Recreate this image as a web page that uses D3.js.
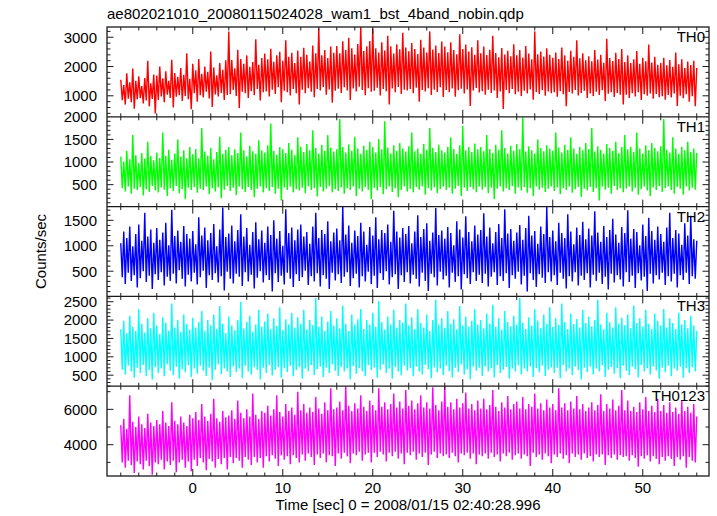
<!DOCTYPE html>
<html><head><meta charset="utf-8">
<script src="https://cdn.jsdelivr.net/npm/d3@7"></script>
<style>
body{margin:0;background:#fff}
text{font-family:"Liberation Sans",Arial,Helvetica,sans-serif;fill:#000}
</style>
</head><body>
<svg id="chart" width="717" height="516"></svg>
<script>
// ---------- data ----------
const title = "ae802021010_20080115024028_wam1_bst_4band_nobin.qdp";
const xLabel = "Time [sec] 0 = 2008/01/15 02:40:28.996";
const yLabel = "Counts/sec";
const startTime = -8.0;   // time of first sample (s)
const binSize = 1 / 6;    // seconds between samples
const xTicks = [0, 10, 20, 30, 40, 50];
const bandNames = ["TH0", "TH1", "TH2", "TH3", "TH0123"];
const bandColors = ["#ff0000", "#00ff00", "#0000ff", "#00ffff", "#ff00ff"];

const th0 = [
1550,850,1370,700,1770,900,1460,780,1930,560,1510,880,1670,920,1330,740,1610,840,2200,640,1430,890,1730,400,
1690,860,2000,980,1600,780,1840,1040,1510,930,2230,600,1780,970,1650,1020,1950,820,1720,990,2450,880,1580,540,
2090,1090,1870,800,2260,1020,1750,940,2000,1140,1820,910,2510,620,1970,1050,1700,980,2120,1100,1890,860,2210,1030,
3200,1050,2220,1200,1940,990,2570,580,2260,1140,2090,1090,2380,930,1990,1160,2150,1020,2930,1230,2060,840,2290,1120,
2440,1150,2250,980,2610,1210,2160,1060,2380,1290,2500,780,2200,1170,2900,1120,2330,1010,2470,1230,2120,1090,2550,700,
2330,1210,2640,1090,2400,1260,2170,1140,2720,950,2450,1230,3300,1180,2380,1300,2560,1040,2290,1220,2680,760,2470,1170,
2700,1240,2450,1100,2860,1290,2560,1180,2980,860,2620,1250,2410,1150,2770,1310,3350,1200,2530,1020,2690,1260,2870,1140,
3300,1170,2620,1280,2480,1010,2830,1230,2550,1160,3050,700,2690,1250,2440,1120,2760,1300,2590,1060,3150,1210,2650,1180,
2520,1230,2800,1090,2600,1280,2430,800,2910,1200,2650,1150,2480,1260,3200,1030,2580,1210,2720,1130,2460,1290,2850,960,
2680,1200,2490,1120,2830,1250,2560,970,2420,1190,3100,1240,2600,1080,2750,1220,2510,650,2660,1180,2400,1270,2900,1110,
2450,1160,2680,1040,2390,1210,2570,1100,3050,1180,2460,930,2320,1150,2630,550,2410,1200,2540,1090,2350,1230,2760,1050,
2380,1140,2560,990,2310,1170,2700,1080,2440,1220,2250,870,3200,1130,2420,1060,2510,1190,2340,1000,2620,1150,2400,1090,
2300,1120,2480,970,2260,1160,2650,1050,2380,640,2200,1130,2540,1080,2330,1200,2900,1010,2280,1100,2450,1170,2210,930,
2350,1080,2180,990,2560,1140,2240,1030,2400,1190,2130,820,2950,1070,2290,1120,2190,960,2470,1100,2260,1040,2600,700,
2150,1040,2380,930,2120,1090,2250,980,2530,1120,2090,860,2300,1050,2180,1000,2750,1080,2140,900,2330,1060,2060,950,
2120,990,2300,870,2040,1030,2220,940,1990,1080,2480,650,2080,1000,2250,920,1950,1050,2170,800,2050,990,2200,640,
1950];

const th1 = [
1120,420,1010,350,1250,460,1060,300,1600,410,1150,380,980,450,1200,260,1080,400,1450,340,1130,470,1040,370,
1210,330,1090,440,1650,390,1140,250,1270,420,1050,360,1190,470,1500,310,1120,400,1260,180,1080,430,1330,380,
1170,450,1290,320,1080,410,1750,380,1230,460,1140,290,1310,420,1060,350,1220,440,1560,200,1180,390,1270,470,
1330,360,1150,430,1280,270,1200,460,1650,400,1260,340,1120,450,1360,380,1240,220,1180,410,1480,460,1260,330,
1210,420,1370,360,1850,450,1250,300,1160,410,1330,150,1280,440,1200,380,1420,460,1270,330,1150,400,1550,370,
1340,430,1220,310,1400,460,1260,380,1700,420,1310,240,1190,450,1380,350,1250,410,1600,470,1320,330,1230,400,
1280,360,1950,440,1330,300,1210,420,1390,380,1250,460,1560,250,1300,410,1180,350,1360,450,1270,390,1450,180,
1330,430,1210,370,1510,450,1280,290,1900,400,1320,460,1190,340,1370,420,1250,220,1420,380,1300,460,1230,350,
1350,410,1650,330,1240,450,1300,390,1180,460,1400,280,1270,420,1750,370,1310,440,1220,310,1380,400,1260,460,
1210,380,1340,440,1550,300,1290,410,1180,470,1370,250,1800,430,1260,360,1330,450,1220,400,1410,330,1280,460,
1330,390,1240,450,1600,310,1290,430,1200,180,1380,410,1270,460,1700,350,1310,420,1190,380,1360,470,1250,300,
1400,440,1280,370,1990,450,1230,320,1350,420,1260,250,1190,460,1500,390,1310,430,1240,340,1370,410,1300,460,
1250,360,1650,440,1320,290,1210,420,1380,380,1270,460,1550,320,1300,400,1180,450,1340,230,1260,410,1420,370,
1290,450,1750,340,1230,420,1350,150,1270,460,1190,390,1400,430,1310,300,1250,470,1450,380,1200,420,1330,330,
1600,410,1280,460,1340,350,1220,430,1650,280,1300,400,1190,460,1370,370,1260,250,1420,440,1310,380,1240,470,
1350,340,1950,420,1270,460,1210,380,1550,300,1300,450,1180,410,1340,280,1260,460,1450,370,1220,430,1300,390,
1200];

const th2 = [
1050,380,1280,250,1150,470,1380,310,990,420,1230,180,1420,360,1100,500,1650,290,1180,410,1320,150,1060,440,
1350,330,1120,480,1260,220,1450,390,1010,310,1710,450,1190,260,1300,520,1080,350,1390,200,1230,430,1140,300,
1290,470,1030,240,1560,380,1200,510,1360,170,1110,420,1250,330,1430,460,990,280,1320,400,1750,120,1170,490,
1240,350,1400,260,1090,450,1310,390,1620,210,1180,480,1350,300,1020,430,1270,160,1460,370,1130,500,1300,280,
1060,420,1380,330,1210,100,1500,460,1140,290,1290,410,1000,240,1720,470,1250,350,1360,190,1110,440,1320,310,
1420,380,1180,510,1270,230,1040,400,1380,300,1650,460,1150,200,1310,420,1230,350,1480,150,1090,470,1260,320,
1340,440,1110,270,1770,390,1220,480,1400,210,1060,360,1300,450,1190,180,1450,400,1280,300,1020,490,1370,250,
1200,410,1560,170,1130,460,1310,330,1250,500,1420,240,1080,380,1690,440,1280,150,1160,420,1350,290,1230,480,
1390,260,1050,430,1280,350,1600,200,1170,470,1330,310,1440,110,1100,450,1260,380,1740,220,1210,490,1300,340,
1140,410,1370,180,1250,470,1010,290,1480,400,1320,140,1160,440,1580,360,1270,250,1090,480,1400,310,1220,430,
1310,270,1640,450,1180,200,1360,390,1050,480,1270,230,1430,400,1150,310,1720,460,1240,170,1330,420,1100,350,
1260,490,1410,240,1120,410,1350,100,1590,460,1200,330,1290,190,1040,440,1380,370,1230,270,1760,480,1170,300,
1300,420,1090,230,1450,470,1250,350,1150,160,1620,400,1280,300,1030,480,1360,220,1210,410,1470,330,1130,460,
1340,180,1200,430,1680,310,1260,470,1080,250,1390,390,1170,140,1310,450,1530,280,1220,420,1060,340,1370,200,
1250,480,1700,290,1140,410,1330,170,1270,460,1010,320,1420,390,1190,110,1550,450,1290,260,1120,420,1380,340,
1230,470,1080,230,1360,400,1650,300,1150,450,1310,180,1240,420,1020,330,1440,470,1200,250,1590,400,1130,350,
1100];

const th3 = [
1750,650,1980,520,1640,760,2120,600,1820,430,1700,700,2300,560,1900,780,1660,480,2050,640,1780,380,2200,720,
1850,560,1620,690,2080,470,1930,800,1710,620,2450,500,1800,730,2000,410,1680,660,2150,580,1890,770,1740,450,
2060,680,1800,540,1950,760,2250,620,1700,480,2000,710,1860,370,2150,650,1760,790,2380,530,1900,680,1650,600,
2100,450,1850,740,1720,580,2000,680,2500,420,1780,760,1950,600,2120,510,1690,720,1880,640,2280,380,1820,700,
1960,560,2180,780,1760,490,2050,650,1840,720,2350,430,1730,690,2020,590,1880,760,2200,470,1790,640,2080,720,
1900,400,2280,680,1750,610,2000,780,1860,500,2600,660,1820,730,2100,450,1700,700,1960,560,2250,790,1850,620,
2050,480,1780,720,2400,600,1900,680,1700,380,2150,750,1880,540,2020,690,2300,610,1760,470,2000,770,1870,640,
2200,700,1820,430,2520,650,1950,790,1740,560,2100,680,1880,400,2280,720,1800,600,2000,500,1930,760,2450,630,
1850,690,2080,470,1760,740,2300,600,1920,520,1800,780,2150,660,1700,420,2000,710,2550,580,1880,680,2050,500,
1790,760,2250,610,1900,440,2020,700,1750,580,2380,790,1860,520,2100,660,1820,390,1980,730,2300,620,1880,700,
2000,480,1770,740,2180,600,1900,690,2420,440,1820,770,2050,560,1740,650,2250,720,1950,410,1830,680,2120,600,
1880,770,2600,520,1930,680,1760,600,2080,740,1850,450,2300,690,1990,580,1780,760,2150,480,1900,650,2350,710,
1810,560,2050,700,1870,420,2450,780,1950,600,1760,680,2180,500,1890,740,2030,640,1800,380,2280,700,1920,590,
2100,730,1830,520,2000,680,2550,600,1880,770,1750,450,2200,650,1940,720,1800,540,2350,690,1900,420,2060,760,
1860,620,2150,500,1780,730,2400,660,1920,440,2050,780,1820,600,2280,690,1900,520,1760,740,2180,630,1980,400,
1850,700,2300,580,1800,760,2050,470,1920,680,1760,620,2200,730,1880,430,2000,690,1780,560,2120,720,1850,600,
1700];

const th0123 = [
5100,3000,5450,2700,4900,3100,6800,2850,5300,2400,5000,3050,5600,2900,5150,2600,4950,3100,5750,2800,5250,2300,5050,3000,
5400,2900,5150,3150,5900,2600,5250,3050,5050,2850,6400,3100,5350,2450,5150,3000,5600,3150,5250,2700,5050,3050,5700,2500,
5500,3150,5850,2800,5400,3250,6300,3000,5600,2550,5350,3200,5750,3050,6600,2700,5500,3200,5300,2900,5900,3250,5550,2600,
5650,3300,5950,2950,5450,3250,6500,3100,5800,2700,5500,3300,6000,3150,5600,2850,6900,3300,5700,3000,5450,3250,5900,2700,
5800,3350,6200,3050,5650,3400,6000,3200,6800,2800,5850,3400,5600,3150,6300,3350,5900,2900,6100,3400,5700,3250,7000,3000,
5950,3450,6300,3100,5800,3500,6100,3300,5850,2850,6700,3450,6050,3250,5750,3500,6400,3000,5950,3400,7200,3350,6000,2800,
6100,3500,6450,3200,5950,3550,7300,3350,6200,2950,5900,3500,6350,3400,6050,3600,6800,3100,6150,3450,5900,3550,6500,3000,
6250,3550,5950,3300,7200,3600,6150,3450,6400,3050,6000,3550,6300,3350,6900,3600,6100,3200,6450,3500,6050,2900,7100,3550,
6200,3400,6500,3600,6000,3150,6350,3500,6800,3300,6100,3550,6400,2850,6050,3450,7250,3600,6250,3250,5950,3500,6450,3350,
7300,3450,6150,3250,6400,3550,6000,3350,6600,3000,6100,3500,6350,3400,6950,3550,6050,3200,6300,3500,5950,2900,6500,3450,
6050,3350,6600,3500,6000,3200,6250,3550,7100,3300,6150,3450,5900,3050,6400,3500,6100,3350,6750,3550,6000,3150,6300,3400,
6450,3500,6050,3200,6700,3450,6000,3350,6300,2800,6150,3550,6900,3300,6050,3450,6350,3150,5950,3500,6550,3350,6100,2950,
6300,3450,5950,3300,7200,3500,6100,3200,6350,3400,5950,2950,6450,3500,6050,3300,6750,3450,6000,3150,6300,3500,5900,3250,
6100,3350,6400,3050,5950,3450,6250,3300,6850,3450,5900,2850,6300,3400,6050,3250,6550,3450,5950,3150,6200,3400,7100,3300,
5950,3350,6500,3100,5900,3400,6150,3250,5850,2750,6400,3350,6000,3200,6700,3400,5900,3050,6200,3350,5850,3200,6600,2900,
5900,3300,6250,3100,5800,3350,6400,3200,5850,2800,6100,3300,5750,3150,6500,3350,5900,2700,6150,3300,5800,3100,6300,3000,
5600];

// y-axis ranges and tick labels per band
const yRanges = [[283, 3350], [15, 2000], [5, 1770], [200, 2645], [2230, 7310]];
const th0Ticks = [1000, 2000, 3000];
const th1Ticks = [500, 1000, 1500, 2000];
const th2Ticks = [500, 1000, 1500];
const th3Ticks = [500, 1000, 1500, 2000, 2500];
const th0123Ticks = [4000, 6000];
const minorSteps = [200, 100, 100, 100, 1000];

const series = [th0, th1, th2, th3, th0123];
const yTickSets = [th0Ticks, th1Ticks, th2Ticks, th3Ticks, th0123Ticks];

// ---------- layout ----------
const L = 107, R = 709, T = 27, B = 476;
const nP = 5, pH = (B - T) / nP;
const FONT = 15;
const frameColor = "#1a1a1a";

const svg = d3.select("#chart");
const x = d3.scaleLinear().domain([-9.53, 57.36]).range([L, R]);
const xMinor = d3.range(-8, 57, 2);

series.forEach((vals, p) => {
  const top = T + p * pH, bot = top + pH;
  const y = d3.scaleLinear().domain(yRanges[p]).range([bot, top]);
  const clipId = "clip" + p;
  svg.append("clipPath").attr("id", clipId).append("rect")
    .attr("x", L).attr("y", top).attr("width", R - L).attr("height", pH);

  const line = d3.line()
    .x((d, i) => x(startTime + i * binSize))
    .y(d => y(d));
  svg.append("path").datum(vals)
    .attr("clip-path", `url(#${clipId})`)
    .attr("fill", "none")
    .attr("stroke", bandColors[p])
    .attr("stroke-width", 1.4)
    .attr("stroke-linejoin", "bevel")
    .attr("d", line);

  const g = svg.append("g");
  const ticks = yTickSets[p];
  const minor = d3.range(Math.ceil(yRanges[p][0] / minorSteps[p]) * minorSteps[p], yRanges[p][1], minorSteps[p]);
  minor.forEach(v => {
    const isMajor = ticks.includes(v);
    const len = isMajor ? 6.5 : 3.5;
    const yy = y(v);
    g.append("line").attr("x1", L).attr("x2", L + len).attr("y1", yy).attr("y2", yy);
    g.append("line").attr("x1", R).attr("x2", R - len).attr("y1", yy).attr("y2", yy);
  });
  ticks.forEach(v => {
    svg.append("text").attr("x", 97).attr("y", y(v)).attr("dy", "0.36em")
      .attr("text-anchor", "end").attr("font-size", FONT).text(d3.format("d")(v));
  });
  xMinor.forEach(t => {
    const isMajor = xTicks.includes(t);
    const len = isMajor ? 7 : 3.5;
    const xx = x(t);
    g.append("line").attr("x1", xx).attr("x2", xx).attr("y1", top).attr("y2", top + len);
    g.append("line").attr("x1", xx).attr("x2", xx).attr("y1", bot).attr("y2", bot - len);
  });
  g.selectAll("line").attr("stroke", frameColor).attr("stroke-width", 1);

  svg.append("text").attr("x", 705).attr("y", top + 15)
    .attr("text-anchor", "end").attr("font-size", FONT).text(bandNames[p]);
});

svg.append("rect").attr("x", L).attr("y", T).attr("width", R - L).attr("height", B - T)
  .attr("fill", "none").attr("stroke", frameColor).attr("stroke-width", 1.3);
for (let p = 1; p < nP; p++) {
  const yy = T + p * pH;
  svg.append("line").attr("x1", L).attr("x2", R).attr("y1", yy).attr("y2", yy)
    .attr("stroke", frameColor).attr("stroke-width", 1.3);
}

xTicks.forEach(t => {
  svg.append("text").attr("x", x(t)).attr("y", 493).attr("text-anchor", "middle")
    .attr("font-size", FONT).text(t);
});

svg.append("text").attr("x", 107).attr("y", 19).attr("font-size", FONT).text(title);
svg.append("text").attr("x", (L + R) / 2).attr("y", 510).attr("text-anchor", "middle")
  .attr("font-size", FONT).text(xLabel);
svg.append("text").attr("transform", `translate(46,${(T + B) / 2}) rotate(-90)`)
  .attr("text-anchor", "middle").attr("font-size", FONT).text(yLabel);
</script>
</body></html>
